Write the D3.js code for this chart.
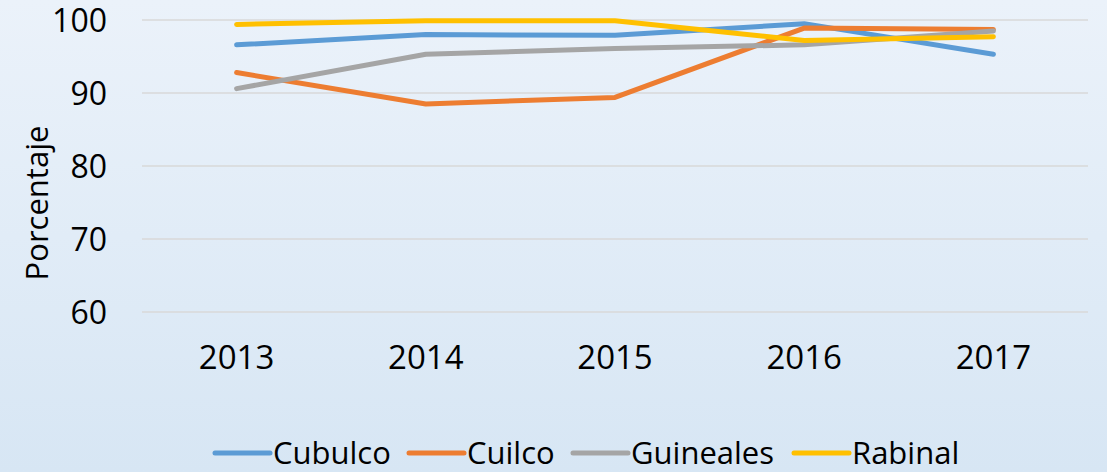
<!DOCTYPE html>
<html><head><meta charset="utf-8">
<script src="https://cdn.jsdelivr.net/npm/d3@7"></script>
<style>html,body{margin:0;padding:0;overflow:hidden;}svg{display:block;}</style>
</head><body>
<script>
const years = ["2013","2014","2015","2016","2017"];
const seriesNames = ["Cubulco","Cuilco","Guineales","Rabinal"];
const cubulco   = [96.6, 98.0, 97.9, 99.5, 95.3];
const cuilco    = [92.8, 88.5, 89.4, 98.9, 98.7];
const guineales = [90.6, 95.3, 96.1, 96.6, 98.5];
const rabinal   = [99.4, 99.9, 99.9, 97.2, 97.7];
const yTicks = [60, 70, 80, 90, 100];
const colors = ["#5b9bd5","#ed7d31","#a5a5a5","#ffc000"];
const allSeries = [cubulco, cuilco, guineales, rabinal];

const W = 1107, H = 472;
const svg = d3.select("body").append("svg").attr("width", W).attr("height", H);
const defs = svg.append("defs");
const grad = defs.append("linearGradient").attr("id","bg").attr("x1",0).attr("y1",0).attr("x2",0).attr("y2",1);
grad.append("stop").attr("offset","0%").attr("stop-color","#ebf2fa");
grad.append("stop").attr("offset","100%").attr("stop-color","#d7e6f4");
svg.append("rect").attr("width",W).attr("height",H).attr("fill","url(#bg)");

const font = "'Open Sans', sans-serif";
const x = d3.scaleBand().domain(years).range([142, 1088]);
const y = d3.scaleLinear().domain([60, 100]).range([312, 20]);

// gridlines
svg.append("g").selectAll("line").data(yTicks).join("line")
  .attr("x1", 142).attr("x2", 1088)
  .attr("y1", d => y(d)).attr("y2", d => y(d))
  .attr("stroke", "#d9d9d9").attr("stroke-width", 1.5);

// y axis labels
const yAxis = d3.axisLeft(y).tickValues(yTicks).tickSize(0).tickPadding(0);
const gy = svg.append("g").attr("transform","translate(107,0)").call(yAxis);
gy.select(".domain").remove();
gy.selectAll("text").attr("font-family", font).attr("font-size", 32).attr("fill","#000").attr("dy","0.35em");

// x axis labels
const xAxis = d3.axisBottom(x).tickSize(0).tickPadding(0);
const gx = svg.append("g").attr("transform","translate(0,346)").call(xAxis);
gx.select(".domain").remove();
gx.selectAll("text").attr("font-family", font).attr("font-size", 33).attr("fill","#000").attr("dy","0.71em").attr("y",0);

// y title
svg.append("text").attr("transform","translate(48,203) rotate(-90)")
  .attr("text-anchor","middle").attr("font-family", font).attr("font-size", 31).attr("fill","#000")
  .text("Porcentaje");

// lines
const line = d3.line().x((d,i) => x(years[i]) + x.bandwidth()/2).y(d => y(d));
svg.append("g").selectAll("path").data(allSeries).join("path")
  .attr("d", d => line(d)).attr("fill","none")
  .attr("stroke", (d,i) => colors[i]).attr("stroke-width", 5)
  .attr("stroke-linecap","round").attr("stroke-linejoin","round");

// legend
const legX = [215, 409, 573, 794];
const legY = 453;
const leg = svg.append("g").selectAll("g").data(seriesNames).join("g")
  .attr("transform", (d,i) => `translate(${legX[i]},${legY})`);
leg.append("line").attr("x1",0).attr("x2",55).attr("y1",0).attr("y2",0)
  .attr("stroke",(d,i)=>colors[i]).attr("stroke-width",5).attr("stroke-linecap","round");
leg.append("text").attr("x",58).attr("y",0).attr("dy","0.35em")
  .attr("font-family", font).attr("font-size", 31).attr("fill","#000").text(d=>d);
</script>
</body></html>
